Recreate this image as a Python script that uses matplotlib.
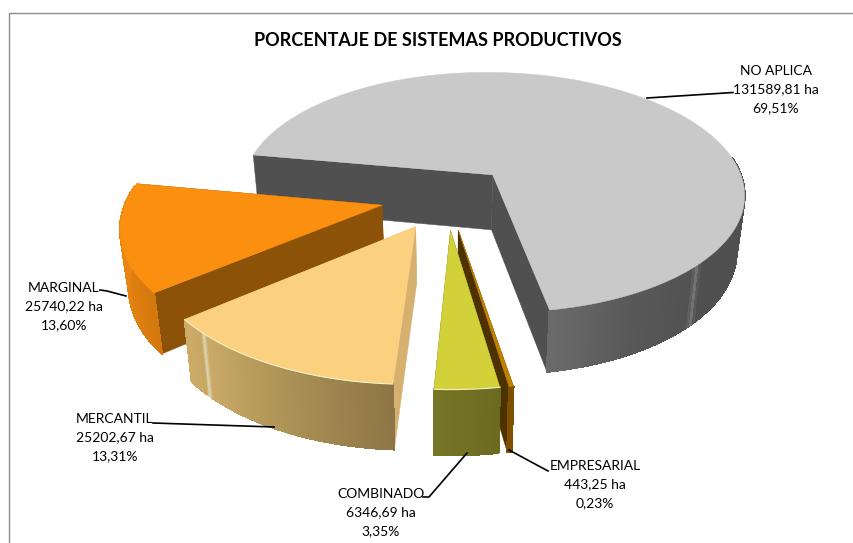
"""
Exploded 3D pie: PORCENTAJE DE SISTEMAS PRODUCTIVOS
Slices are built from the hectares and pushed through a small perspective model.
"""

import numpy as np
import matplotlib
matplotlib.use("Agg")
import matplotlib.pyplot as plt
from matplotlib.colors import to_rgb
from matplotlib.patches import Polygon

names = ["NO APLICA", "EMPRESARIAL", "COMBINADO", "MERCANTIL", "MARGINAL"]
hectares = [131589.81, 443.25, 6346.69, 25202.67, 25740.22]
percents = [69.51, 0.23, 3.35, 13.31, 13.60]

top_colors = ["#c9c9c9", "#c28000", "#d3d13a", "#fbd07e", "#fb8f10"]
cut_colors = ["#505050", "#4d3200", "#5d5c1c", "#d6b06e", "#8b5208"]
wall_stops = [
    [(0, "#505050"), (0.852, "#505050"), (0.858, "#747474"), (0.864, "#525252"), (0.93, "#585858"), (1, "#6a6a6a")],
    [(0, "#7d5000"), (1, "#7d5000")],
    [(0, "#6b6a20"), (1, "#777626")],
    [(0, "#8d7546"), (0.5, "#b09658"), (0.85, "#cbaa68"), (0.875, "#dcd8b4"), (0.89, "#c8a864"), (1, "#cdaa68")],
    [(0, "#d2780e"), (0.4, "#e58210"), (1, "#f08a10")],
]
draw_order = [0, 4, 3, 1, 2]

# perspective model, pixels
CX, CY = 447, 197
RX, RY = 255, 124
PERSP = 0.15
EXPLODE = 0.26
START_DEG = -80.0
LEAN = 0.027


def project(rad, theta, mid):
    u = rad * np.sin(theta) + EXPLODE * np.sin(mid)
    v = rad * np.cos(theta) + EXPLODE * np.cos(mid)
    w = 1 + PERSP * v
    return CX + RX * u / w, CY - RY * v / w


def drop(x, y):
    return x + (CX - x) * LEAN, y + 46.25 + 0.05 * y


def fill(ax, x, y, color, z, smooth=True):
    ax.add_patch(Polygon(np.column_stack([x, y]), closed=True, facecolor=color, edgecolor=color,
                         linewidth=0.3 if smooth else 0.8, antialiased=smooth, zorder=z))


def draw_slice(ax, i, a0, a1, z):
    mid = (a0 + a1) / 2
    theta = np.linspace(a0, a1, 241)
    ax_x, ax_y = project(np.ones_like(theta), theta, mid)
    px, py = project(0.0, 0.0, mid)
    bx, by = drop(ax_x, ax_y)
    pbx, pby = drop(px, py)

    # cut faces
    fill(ax, [px, ax_x[0], bx[0], pbx], [py, ax_y[0], by[0], pby], cut_colors[i], z)
    fill(ax, [px, ax_x[-1], bx[-1], pbx], [py, ax_y[-1], by[-1], pby], cut_colors[i], z)

    # outer wall, shaded along the arc; the back of the rim stays hidden
    fr = [s[0] for s in wall_stops[i]]
    rgb = np.array([to_rgb(s[1]) for s in wall_stops[i]])
    for j in range(len(theta) - 1):
        if np.cos(theta[j]) > 0.15:
            continue
        f = j / (len(theta) - 2)
        col = [np.interp(f, fr, rgb[:, c]) for c in range(3)]
        fill(ax, [ax_x[j], ax_x[j + 1], bx[j + 1], bx[j]],
             [ax_y[j], ax_y[j + 1], by[j + 1], by[j]], col, z + 0.1, smooth=False)

    # top
    fill(ax, np.r_[px, ax_x], np.r_[py, ax_y], top_colors[i], z + 0.2)
    if i in (2, 3):
        front = np.cos(theta) < -0.5
        ax.plot(ax_x[front], ax_y[front], color="#f4f0c8", lw=0.8, zorder=z + 0.3)


def main():
    fig = plt.figure(figsize=(8.54, 5.43), dpi=100)
    ax = fig.add_axes([0, 0, 1, 1])
    ax.set_xlim(0, 854)
    ax.set_ylim(543, 0)
    ax.axis("off")

    # chart frame
    ax.plot([9.5, 9.5, 854], [543, 12.5, 12.5], color="#8c8c8c", lw=1.0, zorder=0)

    shares = np.array(hectares) / np.sum(hectares)
    edges = np.radians(START_DEG + 360 * np.r_[0, np.cumsum(shares)])
    for z, i in enumerate(draw_order):
        draw_slice(ax, i, edges[i], edges[i + 1], 2 + z)

    ax.text(438, 40, "PORCENTAJE DE SISTEMAS PRODUCTIVOS", ha="center", va="center",
            fontsize=13, fontweight="bold", family="Lato", color="black", zorder=20)

    label_xy = [(776, 89.5), (595, 484.5), (381, 512.5), (115, 437.5), (64, 306.5)]
    leaders = [
        ([647, 733], [98, 92.5]),
        ([509, 548], [450, 471]),
        ([467, 429, 423], [453, 497, 497]),
        ([274, 153], [427, 423]),
        ([126, 107, 100], [296, 291, 290]),
    ]
    for i, name in enumerate(names):
        ha_txt = f"{hectares[i]:.2f}".replace(".", ",") + " ha"
        pct_txt = f"{percents[i]:.2f}".replace(".", ",") + "%"
        ax.text(label_xy[i][0], label_xy[i][1], f"{name}\n{ha_txt}\n{pct_txt}", ha="center", va="center",
                fontsize=10, family="Lato", color="black", linespacing=1.68, zorder=20)
        ax.plot(leaders[i][0], leaders[i][1], color="black", lw=1.2, zorder=15)

    fig.savefig("out.png", dpi=100)
    plt.close(fig)


if __name__ == "__main__":
    main()
